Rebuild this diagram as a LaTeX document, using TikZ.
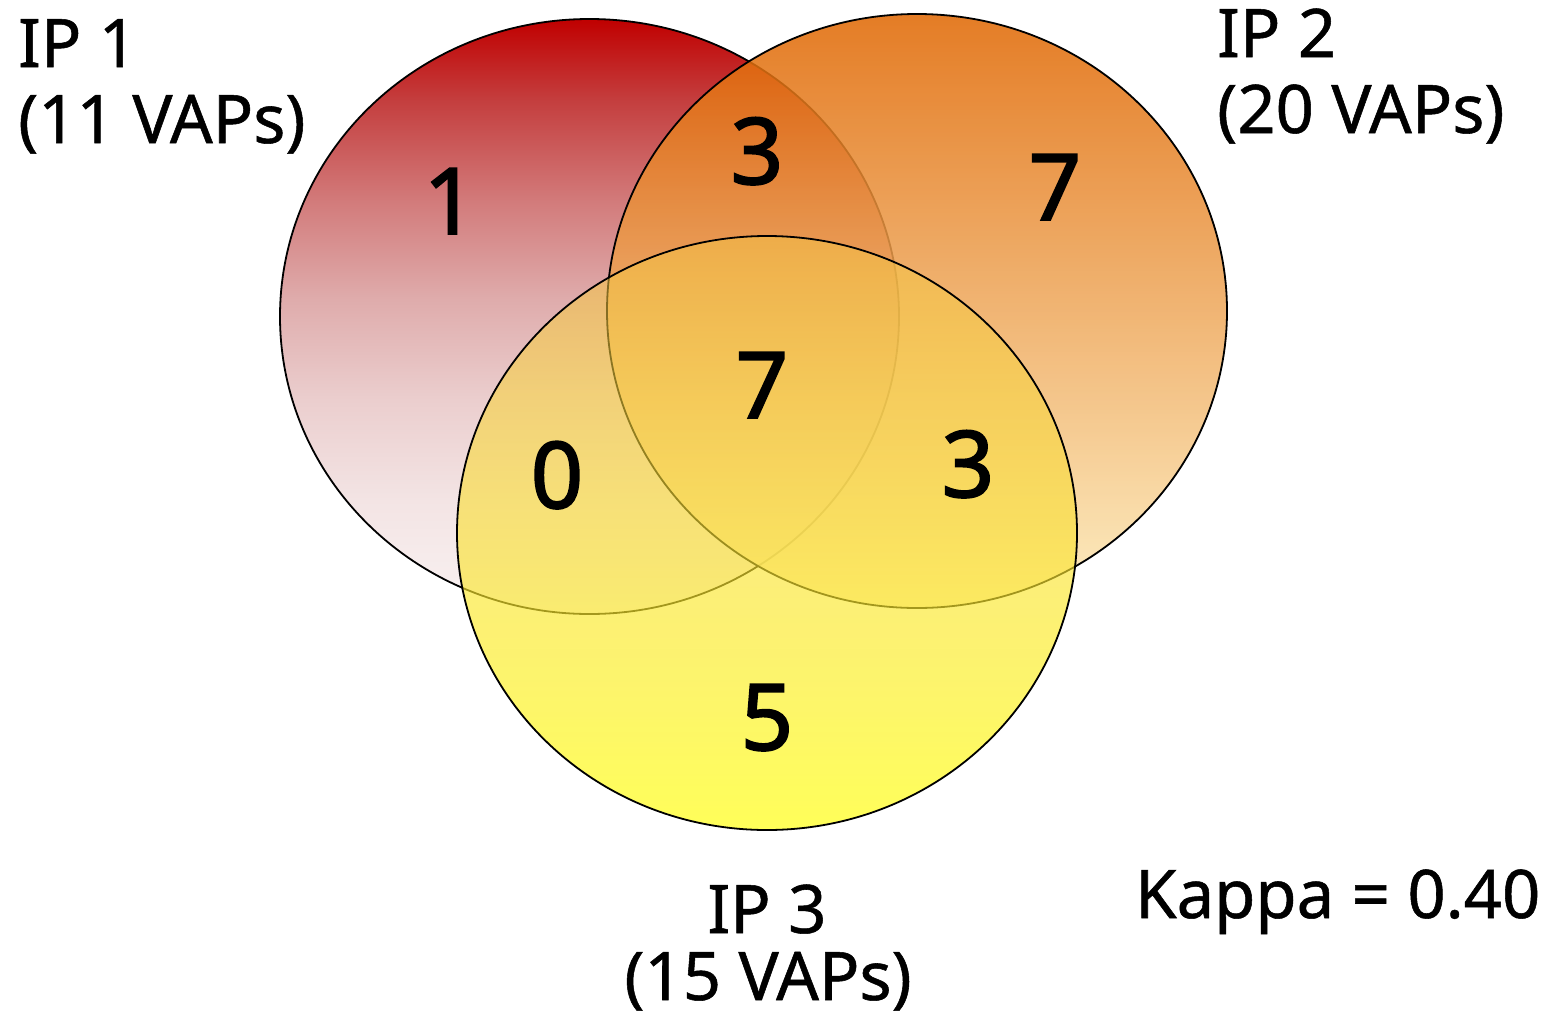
\documentclass[tikz,border=0pt]{standalone}
\usepackage{fontspec}
\setmainfont{Noto Sans}
\newfontfamily\numfont[FakeBold=2]{Noto Sans}
\newfontfamily\lblfont[FakeBold=0.8]{Noto Sans}
\usetikzlibrary{fadings}
\definecolor{ra}{RGB}{192,0,0}
\definecolor{rb}{RGB}{196,62,62}
\definecolor{rc}{RGB}{210,122,122}
\definecolor{rd}{RGB}{223,172,172}
\definecolor{re}{RGB}{235,206,206}
\definecolor{rf}{RGB}{243,228,228}
\definecolor{rg}{RGB}{249,242,242}
\pgfdeclareverticalshading{iponeshade}{100bp}{color(0bp)=(rg); color(25bp)=(rg); color(34.6bp)=(rf); color(43bp)=(re); color(51.4bp)=(rd); color(59.8bp)=(rc); color(68.2bp)=(rb); color(75bp)=(ra); color(100bp)=(ra)}
\begin{tikzfadingfrompicture}[name=fadethree]
  \shade[top color=transparent!60, bottom color=transparent!15] (-50bp,-50bp) rectangle (50bp,50bp);
\end{tikzfadingfrompicture}
\begin{document}
\begin{tikzpicture}[x=1pt,y=-1pt,
  outline/.style={draw=black,line width=1.8pt},
  lbl/.style={inner sep=0pt,font=\lblfont\fontsize{67}{76}\selectfont},
  num/.style={inner sep=0pt,anchor=base,font=\numfont\fontsize{92}{100}\selectfont}]
\useasboundingbox[fill=white] (0,0) rectangle (1542,1021);
% IP 1
\shade[shading=iponeshade]
  (589.5,316.5) ellipse [x radius=309.5, y radius=297.5];
\draw[outline] (589.5,316.5) ellipse [x radius=309.5, y radius=297.5];
% IP 2
\shade[fill opacity=0.85, top color={rgb,255:red,224;green,102;blue,0}, bottom color={rgb,255:red,253;green,235;blue,184}]
  (917,311) ellipse [x radius=310, y radius=297];
\draw[outline] (917,311) ellipse [x radius=310, y radius=297];
% IP 3
\shade[path fading=fadethree, fit fading=true, top color={rgb,255:red,245;green,195;blue,70}, bottom color={rgb,255:red,255;green,255;blue,30}]
  (767,533) ellipse [x radius=310, y radius=297];
\draw[outline] (767,533) ellipse [x radius=310, y radius=297];
% counts
\node[num] (n1) at (450,234) {1};
\node[num] (n12) at (757,184) {3};
\node[num] (n2) at (1055,220) {7};
\node[num] (n123) at (762,418) {7};
\node[num] (n13) at (557,508) {0};
\node[num] (n23) at (968,497) {3};
\node[num] (n3) at (767,750) {5};
% labels
\node[lbl,anchor=base west] (ip1a) at (18,67) {IP 1};
\node[lbl,anchor=base west] (ip1b) at (18,143) {(11 VAPs)};
\node[lbl,anchor=base west] (ip2a) at (1217,57) {IP 2};
\node[lbl,anchor=base west] (ip2b) at (1217,133) {(20 VAPs)};
\node[lbl,anchor=base] (ip3a) at (767,933) {IP 3};
\node[lbl,anchor=base] (ip3b) at (768,1000) {(15 VAPs)};
\node[lbl,anchor=base west] (kappa) at (1135,918) {Kappa = 0.40};
\end{tikzpicture}
\end{document}
